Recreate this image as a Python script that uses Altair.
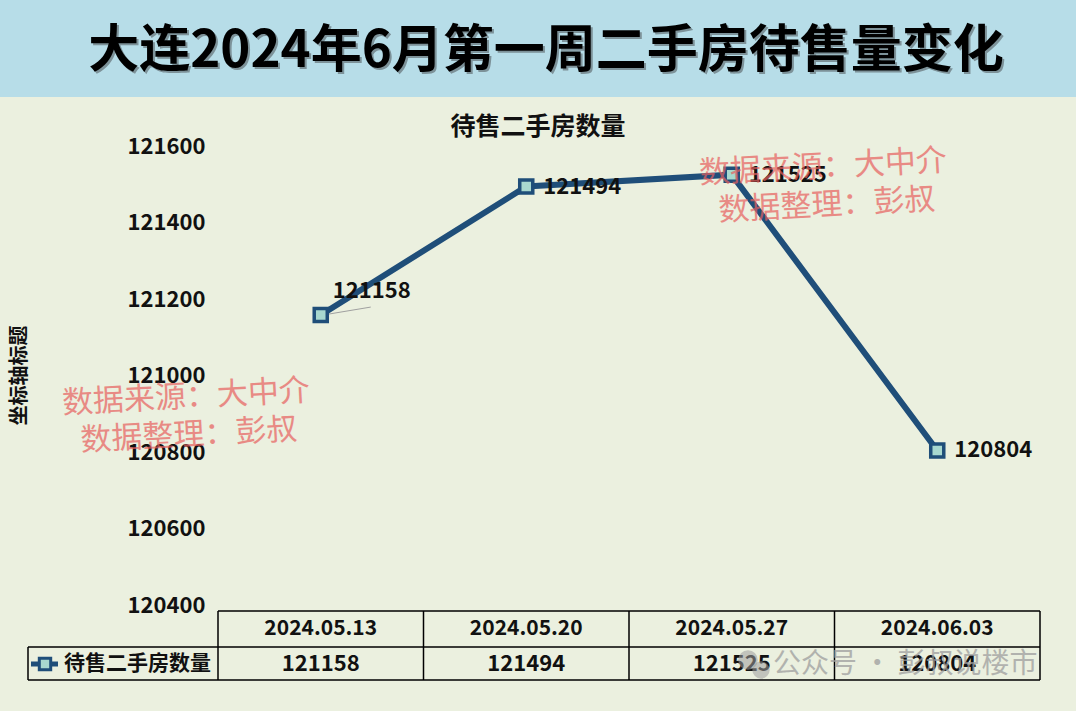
import altair as alt
import pandas as pd

# ---- data ----
dates = ["2024.05.13", "2024.05.20", "2024.05.27", "2024.06.03"]
values = [121158, 121494, 121525, 120804]
series_name = "待售二手房数量"
y_ticks = [120400, 120600, 120800, 121000, 121200, 121400, 121600]
title_text = "大连2024年6月第一周二手房待售量变化"
subtitle_text = "待售二手房数量"
axis_title = "坐标轴标题"
wm_lines = ["数据来源：大中介", "数据整理：彭叔"]
wm_bottom = "公众号 · 彭叔说楼市"

df = pd.DataFrame({"date": dates, "value": values})
one = pd.DataFrame({"k": [0]})

FONT = "Noto Sans CJK SC"
LINE_COLOR = "#1F4E79"
MARK_FILL = "#A8D8CF"
W, H = 822, 459


def xenc(pos=0.5):
    return alt.X("date:N", sort=dates, bandPosition=pos,
                 scale=alt.Scale(type="band", domain=dates, paddingInner=0, paddingOuter=0),
                 axis=None)


yenc = alt.Y("value:Q",
             scale=alt.Scale(domain=[120400, 121600], nice=False, zero=False),
             axis=alt.Axis(values=y_ticks, labelFont=FONT, labelFontSize=22,
                           labelFontWeight="bold", labelColor="#111111",
                           ticks=False, domain=False, grid=False, labelPadding=13,
                           title=None, format="d"))

base = alt.Chart(df)

# title banner
banner = alt.Chart(one).mark_rect(color="#B7DDE8").encode(
    x=alt.value(-218), x2=alt.value(858), y=alt.value(-146), y2=alt.value(-49))
title_shadow = alt.Chart(one).mark_text(font=FONT, fontSize=51, fontWeight="bold",
                                        color="#7d9299", dx=2, dy=2).encode(
    x=alt.value(328), y=alt.value(-94), text=alt.value(title_text))
title = alt.Chart(one).mark_text(font=FONT, fontSize=51, fontWeight="bold",
                                 color="#000000").encode(
    x=alt.value(328), y=alt.value(-94), text=alt.value(title_text))
subtitle = alt.Chart(one).mark_text(font=FONT, fontSize=25, fontWeight="bold",
                                    color="#111111").encode(
    x=alt.value(320), y=alt.value(-19), text=alt.value(subtitle_text))
ytitle = alt.Chart(one).mark_text(font=FONT, fontSize=20, fontWeight="bold",
                                  color="#111111", angle=270).encode(
    x=alt.value(-198), y=alt.value(229.5), text=alt.value(axis_title))

# line + markers
line = base.mark_line(color=LINE_COLOR, strokeWidth=6).encode(x=xenc(), y=yenc)
points = base.mark_point(shape="square", filled=True, fill=MARK_FILL, stroke=LINE_COLOR,
                         strokeWidth=3.5, size=170, opacity=1).encode(x=xenc(), y=yenc)

leader = base.transform_filter(alt.datum.date == dates[0]).mark_rule(
    color="#A0A0A0", strokeWidth=1, x2Offset=50, y2Offset=-8, xOffset=2).encode(
    x=xenc(), x2=alt.X2("date:N", bandPosition=0.5), y=yenc, y2=alt.Y2("value:Q"))

label_first = base.transform_filter(alt.datum.date == dates[0]).mark_text(
    font=FONT, fontSize=22, fontWeight="bold", color="#111111",
    align="left", dx=12, dy=-24).encode(x=xenc(), y=yenc, text=alt.Text("value:Q", format="d"))
label_rest = base.transform_filter(alt.datum.date != dates[0]).mark_text(
    font=FONT, fontSize=22, fontWeight="bold", color="#111111",
    align="left", dx=17, dy=0).encode(x=xenc(), y=yenc, text=alt.Text("value:Q", format="d"))

# data table
rule_style = dict(color="#000000", strokeWidth=1.5)
h_top = alt.Chart(one).mark_rule(**rule_style).encode(
    x=alt.value(0), x2=alt.value(W), y=alt.value(465))
h_mid = alt.Chart(one).mark_rule(**rule_style).encode(
    x=alt.value(-190), x2=alt.value(W), y=alt.value(501))
h_bot = alt.Chart(one).mark_rule(**rule_style).encode(
    x=alt.value(-190), x2=alt.value(W), y=alt.value(534))
v_cols = base.mark_rule(**rule_style).encode(
    x=xenc(0), y=alt.value(465), y2=alt.value(534))
v_right = alt.Chart(one).mark_rule(**rule_style).encode(
    x=alt.value(W), y=alt.value(465), y2=alt.value(534))
v_left = alt.Chart(one).mark_rule(**rule_style).encode(
    x=alt.value(-190), y=alt.value(501), y2=alt.value(534))

t_dates = base.mark_text(font=FONT, fontSize=21, fontWeight="bold", color="#111111").encode(
    x=xenc(), y=alt.value(483), text="date:N")
t_vals = base.mark_text(font=FONT, fontSize=22, fontWeight="bold", color="#111111").encode(
    x=xenc(), y=alt.value(518), text=alt.Text("value:Q", format="d"))

leg_line = alt.Chart(one).mark_rule(color=LINE_COLOR, strokeWidth=5).encode(
    x=alt.value(-187), x2=alt.value(-160), y=alt.value(518))
leg_mark = alt.Chart(one).mark_point(shape="square", filled=True, fill=MARK_FILL,
                                     stroke=LINE_COLOR, strokeWidth=3, size=130,
                                     opacity=1).encode(x=alt.value(-173), y=alt.value(518))
leg_text = alt.Chart(one).mark_text(font=FONT, fontSize=21, fontWeight="bold",
                                    color="#111111", align="left").encode(
    x=alt.value(-154), y=alt.value(518), text=alt.value(series_name))

# watermarks
wm_style = dict(font=FONT, fontSize=31, color="#E8605E", opacity=0.7, angle=357)
wm1 = alt.Chart(one).mark_text(**wm_style).encode(
    x=alt.value(-32), y=alt.value(252), text=alt.value(wm_lines[0]))
wm2 = alt.Chart(one).mark_text(**wm_style).encode(
    x=alt.value(-29), y=alt.value(290), text=alt.value(wm_lines[1]))
wm3 = alt.Chart(one).mark_text(**wm_style).encode(
    x=alt.value(605), y=alt.value(22), text=alt.value(wm_lines[0]))
wm4 = alt.Chart(one).mark_text(**wm_style).encode(
    x=alt.value(609), y=alt.value(60), text=alt.value(wm_lines[1]))

icon1 = alt.Chart(one).mark_circle(color="#9E9E9E", opacity=0.55, size=380).encode(
    x=alt.value(530), y=alt.value(514))
icon2 = alt.Chart(one).mark_circle(color="#9E9E9E", opacity=0.55, size=300).encode(
    x=alt.value(543), y=alt.value(524))
wm_b = alt.Chart(one).mark_text(font=FONT, fontSize=28, color="#9E9E9E", opacity=0.75,
                                align="left").encode(
    x=alt.value(555), y=alt.value(519), text=alt.value(wm_bottom))

chart = alt.layer(
    banner, title_shadow, title, subtitle, ytitle,
    h_top, h_mid, h_bot, v_cols, v_right, v_left,
    leg_line, leg_mark, leg_text,
    leader, line, points, label_first, label_rest,
    t_dates, t_vals,
    icon1, icon2, wm_b,
    wm1, wm2, wm3, wm4,
).properties(
    width=W, height=H,
    autosize=alt.AutoSizeParams(type="none"),
    padding={"left": 218, "top": 146, "right": 36, "bottom": 106},
    background="#EBF0DF",
).configure_view(stroke=None)

chart.save("out.html", embed_options={"renderer": "svg", "actions": False})
